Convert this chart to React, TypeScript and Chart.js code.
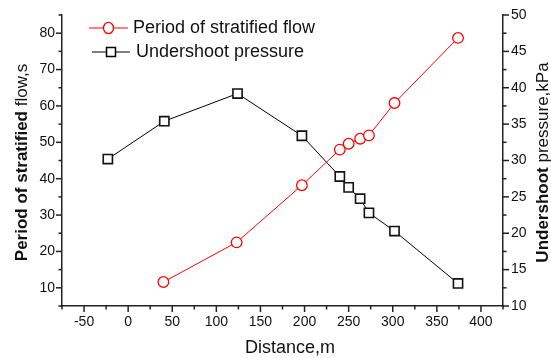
import React, { useEffect, useRef } from "react";
import { Chart, registerables } from "chart.js";

Chart.register(...registerables);

const periodDistance = [40, 123, 197, 240, 250, 263, 273, 302, 374];
const periodValues = [11.6, 22.5, 38.2, 48.0, 49.6, 51.0, 51.9, 60.8, 78.7];
const pressureDistance = [-23, 41, 124, 197, 240, 250, 263, 273, 302, 374];
const pressureValues = [30.2, 35.4, 39.2, 33.4, 27.8, 26.3, 24.75, 22.8, 20.3, 13.1];

const xTicks = [-50, 0, 50, 100, 150, 200, 250, 300, 350, 400];
const leftTicks = [10, 20, 30, 40, 50, 60, 70, 80];
const rightTicks = [10, 15, 20, 25, 30, 35, 40, 45, 50];

const FONT = "'Liberation Sans', Arial, sans-serif";
const RED = "#ff0000";
const BLACK = "#000000";
const AXIS = "#222222";

const customPlugin = {
  id: "custom",
  afterDraw(chart: any) {
    const ctx = chart.ctx;
    const { x, y, y1 } = chart.scales;
    const area = chart.chartArea;
    ctx.save();
    ctx.strokeStyle = AXIS;
    ctx.lineWidth = 1.5;
    const drawX = (v: number, len: number) => {
      const px = x.getPixelForValue(v);
      ctx.beginPath();
      ctx.moveTo(px, area.bottom);
      ctx.lineTo(px, area.bottom + len);
      ctx.stroke();
    };
    for (let v = -75; v <= 425; v += 25) {
      drawX(v, v % 50 === 0 ? 6 : 3.5);
    }
    for (let v = 5; v <= 85; v += 5) {
      const py = y.getPixelForValue(v);
      const len = v % 10 === 0 ? 6 : 3.5;
      ctx.beginPath();
      ctx.moveTo(area.left, py);
      ctx.lineTo(area.left - len, py);
      ctx.stroke();
    }
    for (let v = 10; v <= 50; v += 2.5) {
      const py = y1.getPixelForValue(v);
      const len = v % 5 === 0 ? 6 : 3.5;
      ctx.beginPath();
      ctx.moveTo(area.right, py);
      ctx.lineTo(area.right + len, py);
      ctx.stroke();
    }

    ctx.fillStyle = "#111";
    ctx.textBaseline = "middle";
    const drawRotated = (cx: number, cy: number, parts: [string, string][]) => {
      ctx.save();
      ctx.translate(cx, cy);
      ctx.rotate(-Math.PI / 2);
      let total = 0;
      for (const [t, f] of parts) {
        ctx.font = f;
        total += ctx.measureText(t).width;
      }
      let pos = -total / 2;
      ctx.textAlign = "left";
      for (const [t, f] of parts) {
        ctx.font = f;
        ctx.fillText(t, pos, 0);
        pos += ctx.measureText(t).width;
      }
      ctx.restore();
    };
    const cy = (area.top + area.bottom) / 2 + 2;
    drawRotated(22, cy, [
      ["Period of stratified ", `bold 17px ${FONT}`],
      ["flow,s", `17px ${FONT}`],
    ]);
    drawRotated(543, cy, [
      ["Undershoot ", `bold 17px ${FONT}`],
      ["pressure,kPa", `17px ${FONT}`],
    ]);
    ctx.font = `18px ${FONT}`;
    ctx.textAlign = "center";
    ctx.fillText("Distance,m", 290, 348);

    const legend = [
      { label: "Period of stratified flow", color: RED, style: "circle", y: 28, x0: 89, x1: 128, tx: 133 },
      { label: "Undershoot pressure", color: BLACK, style: "rect", y: 52, x0: 92, x1: 130, tx: 136 },
    ];
    for (const item of legend) {
      ctx.strokeStyle = item.color;
      ctx.lineWidth = 1;
      ctx.beginPath();
      ctx.moveTo(item.x0, item.y);
      ctx.lineTo(item.x1, item.y);
      ctx.stroke();
      const mx = (item.x0 + item.x1) / 2;
      ctx.fillStyle = "#fff";
      ctx.beginPath();
      if (item.style === "circle") {
        ctx.lineWidth = 1.3;
        ctx.ellipse(mx, item.y, 5, 5.7, 0, 0, Math.PI * 2);
      } else {
        ctx.lineWidth = 1.5;
        ctx.rect(mx - 4.5, item.y - 4.5, 9, 9);
      }
      ctx.fill();
      ctx.stroke();
      ctx.fillStyle = "#111";
      ctx.font = `18px ${FONT}`;
      ctx.textAlign = "left";
      ctx.textBaseline = "middle";
      ctx.fillText(item.label, item.tx, item.y);
    }
    ctx.restore();
  },
};

export default function App() {
  const ref = useRef<HTMLCanvasElement | null>(null);
  useEffect(() => {
    document.body.style.margin = "0";
    if (!ref.current) return;
    const chart = new Chart(ref.current, {
      type: "line",
      data: {
        datasets: [
          {
            label: "Period of stratified flow",
            data: periodDistance.map((d, i) => ({ x: d, y: periodValues[i] })),
            yAxisID: "y",
            borderColor: RED,
            borderWidth: 1,
            pointStyle: "circle",
            pointRadius: 5.3,
            pointBorderWidth: 1.3,
            pointBorderColor: RED,
            pointBackgroundColor: "#ffffff",
            tension: 0,
          },
          {
            label: "Undershoot pressure",
            data: pressureDistance.map((d, i) => ({ x: d, y: pressureValues[i] })),
            yAxisID: "y1",
            borderColor: BLACK,
            borderWidth: 1,
            pointStyle: "rect",
            pointRadius: 6.5,
            pointBorderWidth: 1.6,
            pointBorderColor: "#111",
            pointBackgroundColor: "#ffffff",
            tension: 0,
          },
        ],
      },
      options: {
        responsive: false,
        animation: false,
        devicePixelRatio: 1,
        layout: { padding: { top: 15, left: 0, right: 0, bottom: 0 } },
        plugins: {
          legend: { display: false },
          tooltip: { enabled: false },
        },
        scales: {
          x: {
            type: "linear",
            min: -75,
            max: 425,
            afterBuildTicks: (s: any) => {
              s.ticks = xTicks.map((v) => ({ value: v }));
            },
            afterFit: (s: any) => {
              s.height = 52;
            },
            grid: { display: false, drawTicks: true, tickLength: 6 },
            border: { display: true, color: AXIS, width: 1.5 },
            ticks: {
              autoSkip: false,
              maxRotation: 0,
              padding: 2,
              color: "#111",
              font: { family: FONT, size: 14 },
            },
          },
          y: {
            type: "linear",
            position: "left",
            min: 5,
            max: 85,
            afterBuildTicks: (s: any) => {
              s.ticks = leftTicks.map((v) => ({ value: v }));
            },
            afterFit: (s: any) => {
              s.width = 62;
            },
            grid: { display: false, drawTicks: true, tickLength: 6 },
            border: { display: true, color: AXIS, width: 1.5 },
            ticks: {
              autoSkip: false,
              padding: 1,
              color: "#111",
              font: { family: FONT, size: 14 },
            },
          },
          y1: {
            type: "linear",
            position: "right",
            min: 10,
            max: 50,
            afterBuildTicks: (s: any) => {
              s.ticks = rightTicks.map((v) => ({ value: v }));
            },
            afterFit: (s: any) => {
              s.width = 48;
            },
            grid: { display: false, drawTicks: true, tickLength: 6 },
            border: { display: true, color: AXIS, width: 1.5 },
            ticks: {
              autoSkip: false,
              padding: 2,
              color: "#111",
              font: { family: FONT, size: 14 },
            },
          },
        },
      },
      plugins: [customPlugin],
    });
    return () => chart.destroy();
  }, []);
  return (
    <div style={{ position: "fixed", left: 0, top: 0, width: 551, height: 358 }}>
      <canvas ref={ref} width={551} height={358} />
    </div>
  );
}
